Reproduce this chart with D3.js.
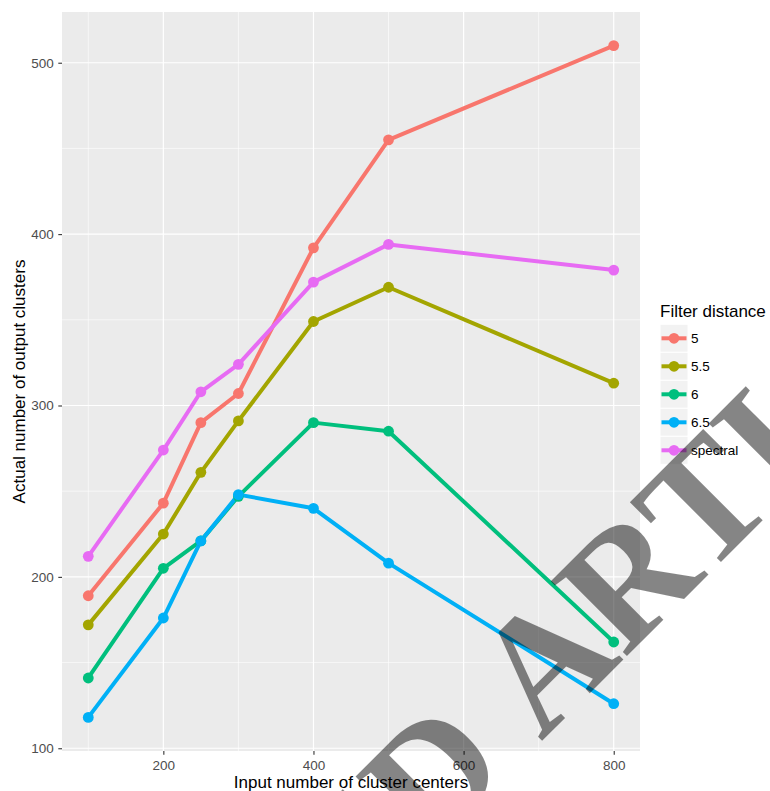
<!DOCTYPE html>
<html>
<head>
<meta charset="utf-8">
<script src="https://cdn.jsdelivr.net/npm/d3@7"></script>
<style>
  body { margin: 0; background: #fff; }
  svg { display: block; font-family: "Liberation Sans", Arial, sans-serif; }
</style>
</head>
<body>
<svg></svg>
<script>
// input number of cluster centers
const centers = [100, 200, 250, 300, 400, 500, 800]

// actual number of output clusters, one array per filter distance
const dist5 = [189, 243, 290, 307, 392, 455, 510]
const dist55 = [172, 225, 261, 291, 349, 369, 313]
const dist6 = [141, 205, 221, 247, 290, 285, 162]
const dist65 = [118, 176, 221, 248, 240, 208, 126]
const spectral = [212, 274, 308, 324, 372, 394, 379]

const seriesNames = ["5", "5.5", "6", "6.5", "spectral"]
const seriesColors = ["#F8766D", "#A3A500", "#00BF7D", "#00B0F6", "#E76BF3"]

const xTicks = [200, 400, 600, 800]
const xMinor = [100, 300, 500, 700]
const yTicks = [100, 200, 300, 400, 500]
const yMinor = [150, 250, 350, 450]

const xTitle = "Input number of cluster centers"
const yTitle = "Actual number of output clusters"
const legendTitle = "Filter distance"
const watermark = ["ACCEPTED", "ARTICLE"]

document.addEventListener("DOMContentLoaded", function () {
    drawChart()
})

function drawChart() {
    let
        svgWidth = 770,
        svgHeight = 791,
        panel = { left: 62, right: 640, top: 12, bottom: 751 }

    let series = [dist5, dist55, dist6, dist65, spectral].map((vals, i) => ({
        name: seriesNames[i],
        color: seriesColors[i],
        points: vals.map((v, j) => ({ x: centers[j], y: v }))
    }))

    let svg = d3.select("svg")
        .attr("width", svgWidth)
        .attr("height", svgHeight)

    // ggplot style 5% expansion on both axes
    let xExt = d3.extent(centers)
    let xPad = (xExt[1] - xExt[0]) * 0.05
    let x = d3.scaleLinear()
        .domain([xExt[0] - xPad, xExt[1] + xPad])
        .range([panel.left, panel.right])

    let yExt = d3.extent(series.flatMap(s => s.points.map(p => p.y)))
    let yPad = (yExt[1] - yExt[0]) * 0.05
    let y = d3.scaleLinear()
        .domain([yExt[0] - yPad, yExt[1] + yPad])
        .range([panel.bottom, panel.top])

    // panel background
    svg.append("rect")
        .attr("x", panel.left)
        .attr("y", panel.top)
        .attr("width", panel.right - panel.left)
        .attr("height", panel.bottom - panel.top)
        .attr("fill", "#EBEBEB")

    let grid = svg.append("g")
    grid.selectAll(".vminor").data(xMinor).join("line")
        .attr("x1", d => x(d)).attr("x2", d => x(d))
        .attr("y1", panel.top).attr("y2", panel.bottom)
        .attr("stroke", "#fff").attr("stroke-width", 0.6)
    grid.selectAll(".hminor").data(yMinor).join("line")
        .attr("x1", panel.left).attr("x2", panel.right)
        .attr("y1", d => y(d)).attr("y2", d => y(d))
        .attr("stroke", "#fff").attr("stroke-width", 0.6)
    grid.selectAll(".vmajor").data(xTicks).join("line")
        .attr("x1", d => x(d)).attr("x2", d => x(d))
        .attr("y1", panel.top).attr("y2", panel.bottom)
        .attr("stroke", "#fff").attr("stroke-width", 1.2)
    grid.selectAll(".hmajor").data(yTicks).join("line")
        .attr("x1", panel.left).attr("x2", panel.right)
        .attr("y1", d => y(d)).attr("y2", d => y(d))
        .attr("stroke", "#fff").attr("stroke-width", 1.2)

    // axes
    let xAxis = svg.append("g")
        .attr("transform", `translate(0, ${panel.bottom})`)
        .call(d3.axisBottom(x).tickValues(xTicks).tickSize(3.7).tickPadding(6))
    let yAxis = svg.append("g")
        .attr("transform", `translate(${panel.left}, 0)`)
        .call(d3.axisLeft(y).tickValues(yTicks).tickSize(3.7).tickPadding(4.6))

    for (let a of [xAxis, yAxis]) {
        a.select(".domain").remove()
        a.selectAll(".tick line").attr("stroke", "#333333").attr("stroke-width", 1.1)
        a.selectAll(".tick text")
            .attr("fill", "#4D4D4D")
            .style("font-family", "Liberation Sans, Arial, sans-serif")
            .style("font-size", "13.5px")
    }

    // lines then points
    let line = d3.line()
        .x(d => x(d.x))
        .y(d => y(d.y))

    svg.append("g").selectAll("path")
        .data(series)
        .join("path")
        .attr("fill", "none")
        .attr("stroke", d => d.color)
        .attr("stroke-width", 4)
        .attr("stroke-linejoin", "round")
        .attr("d", d => line(d.points))

    svg.append("g").selectAll("g")
        .data(series)
        .join("g")
        .attr("fill", d => d.color)
        .selectAll("circle")
        .data(d => d.points)
        .join("circle")
        .attr("cx", d => x(d.x))
        .attr("cy", d => y(d.y))
        .attr("r", 5.4)

    // axis titles
    svg.append("text")
        .text(xTitle)
        .attr("x", (panel.left + panel.right) / 2)
        .attr("y", 788)
        .attr("text-anchor", "middle")
        .attr("font-size", 17)
        .attr("fill", "#000")

    svg.append("text")
        .text(yTitle)
        .attr("transform", `translate(25, ${(panel.top + panel.bottom) / 2}) rotate(-90)`)
        .attr("text-anchor", "middle")
        .attr("font-size", 17)
        .attr("fill", "#000")

    // legend
    let legend = svg.append("g").attr("transform", "translate(660, 0)")
    legend.append("text")
        .text(legendTitle)
        .attr("x", 0)
        .attr("y", 316.7)
        .attr("font-size", 17)
        .attr("fill", "#000")

    let keySize = 28
    let keys = legend.selectAll(".key")
        .data(series)
        .join("g")
        .attr("transform", (d, i) => `translate(0, ${324.3 + i * keySize})`)
    keys.append("rect")
        .attr("width", keySize)
        .attr("height", keySize)
        .attr("fill", "#F2F2F2")
        .attr("stroke", "#fff")
        .attr("stroke-width", 1)
    keys.append("line")
        .attr("x1", 1.5).attr("x2", keySize - 1.5)
        .attr("y1", keySize / 2).attr("y2", keySize / 2)
        .attr("stroke", d => d.color)
        .attr("stroke-width", 4)
    keys.append("circle")
        .attr("cx", keySize / 2)
        .attr("cy", keySize / 2)
        .attr("r", 5.4)
        .attr("fill", d => d.color)
    keys.append("text")
        .text(d => d.name)
        .attr("x", keySize + 3)
        .attr("y", keySize / 2)
        .attr("dy", "0.36em")
        .attr("font-size", 13.5)
        .attr("fill", "#000")

    // watermark stamped over the figure
    let wmSize = 163
    let wm = svg.append("g")
        .attr("transform", "translate(541, 742) rotate(-45)")
        .attr("fill", "#000")
        .attr("fill-opacity", 0.48)
        .style("font-family", "Liberation Serif, Times New Roman, serif")
        .style("font-weight", "bold")
        .style("font-size", wmSize + "px")
    wm.append("text")
        .text(watermark[1])
        .attr("x", 0)
        .attr("y", 0)
    wm.append("text")
        .text(watermark[0])
        .attr("x", -0.25 * wmSize)
        .attr("y", 0)
        .attr("text-anchor", "end")
}
</script>
</body>
</html>
